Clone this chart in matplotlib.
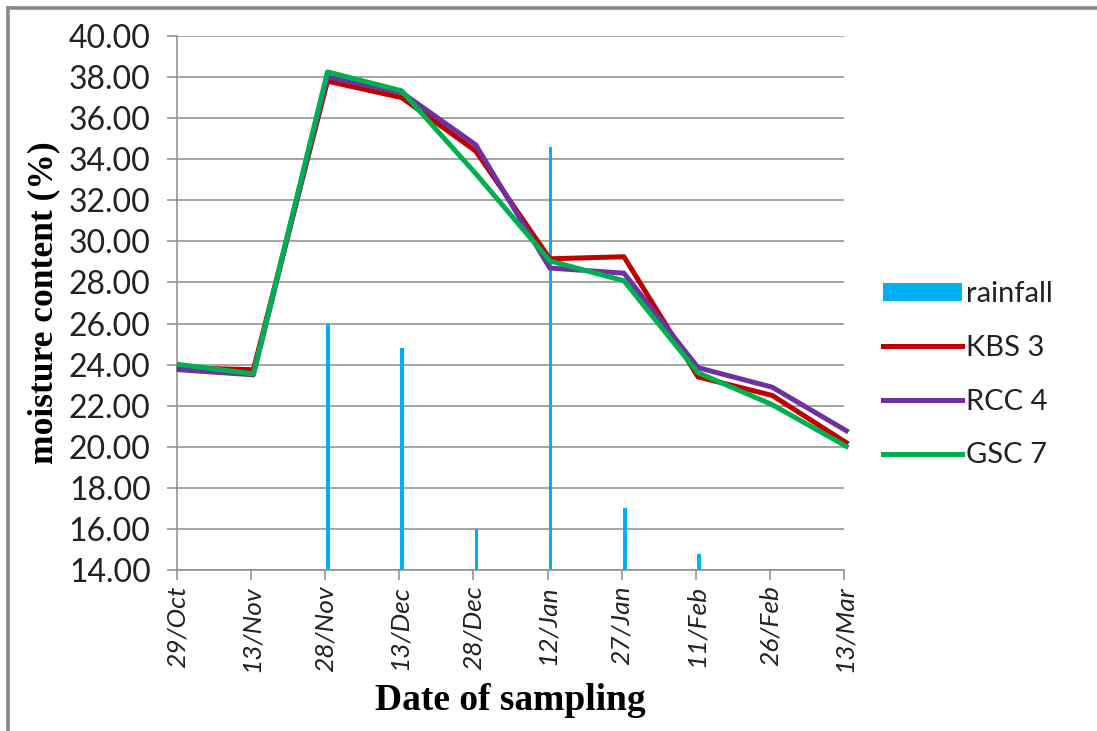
import numpy as np
import matplotlib
matplotlib.use('Agg')
import matplotlib.pyplot as plt
from matplotlib.patches import Patch
from matplotlib.lines import Line2D

# data
dates = ['29/Oct', '13/Nov', '28/Nov', '13/Dec', '28/Dec',
         '12/Jan', '27/Jan', '11/Feb', '26/Feb', '13/Mar']
kbs3 = [23.85, 23.75, 37.80, 37.00, 34.40, 29.15, 29.25, 23.40, 22.50, 20.20]
rcc4 = [23.75, 23.50, 38.00, 37.25, 34.70, 28.70, 28.45, 23.85, 22.90, 20.78]
gsc7 = [24.00, 23.55, 38.25, 37.33, 33.30, 29.05, 28.08, 23.60, 22.05, 20.02]
rainfall = [np.nan, np.nan, 26.0, 24.8, 16.0, 34.6, 17.0, 14.8, np.nan, np.nan]

YMIN, YMAX = 14.0, 40.0

x = np.arange(len(dates))

fig = plt.figure(figsize=(10.97, 7.31), dpi=100)
ax = fig.add_axes([0.1614, 0.2203, 0.6080, 0.7305])

# rainfall drawn as thin bars rising from the axis floor
rain = np.array(rainfall)
ok = ~np.isnan(rain)
ax.bar(x[ok] + 0.04, rain[ok] - YMIN, bottom=YMIN, width=0.05,
       color='#00B0F0', zorder=2)

ax.plot(x + 0.03, kbs3, color='#C00000', lw=3.6, zorder=3, clip_on=False)
ax.plot(x + 0.03, rcc4, color='#7030A0', lw=3.6, zorder=4, clip_on=False)
ax.plot(x + 0.03, gsc7, color='#00B050', lw=3.6, zorder=5, clip_on=False)

ax.set_xlim(0, 9)
ax.set_ylim(YMIN, YMAX)
ax.set_yticks(np.arange(14, 40.1, 2))
ax.set_yticklabels(['%.2f' % v for v in np.arange(14, 40.1, 2)],
                   fontsize=23, family='Lato', color='#222222')
ax.set_xticks(x)
ax.set_xticklabels(dates, rotation=90, fontsize=19, family='Lato',
                   style='italic', color='#222222')

ax.grid(axis='y', color='#8C8C8C', lw=1.1, zorder=0)
for s in ['top', 'right']:
    ax.spines[s].set_visible(False)
ax.spines['left'].set_color('#8C8C8C')
ax.spines['bottom'].set_color('#8C8C8C')
ax.spines['left'].set_linewidth(1.1)
ax.spines['bottom'].set_linewidth(1.1)
ax.tick_params(axis='both', color='#8C8C8C', length=7, width=1.1)
ax.tick_params(axis='y', pad=12)
ax.tick_params(axis='x', pad=4)

ax.set_ylabel('moisture content (%)', family='Liberation Serif',
              fontweight='bold', fontsize=25.5, labelpad=6)
ax.set_xlabel('Date of sampling', family='Liberation Serif',
              fontweight='bold', fontsize=27, labelpad=8)

handles = [Patch(facecolor='#00B0F0', edgecolor='none'),
           Line2D([], [], color='#C00000', lw=3.6),
           Line2D([], [], color='#7030A0', lw=3.6),
           Line2D([], [], color='#00B050', lw=3.6)]
leg = fig.legend(handles, ['rainfall', 'KBS 3', 'RCC 4', 'GSC 7'],
                 loc='upper left', bbox_to_anchor=(0.781, 0.651),
                 frameon=False, prop={'family': 'Lato', 'size': 21},
                 handlelength=2.7, handleheight=0.6, handletextpad=0.15,
                 labelspacing=0.95)
for t in leg.get_texts():
    t.set_color('#222222')

# chart-area border: only left and top edges show
fig.lines.append(Line2D([0.0075, 0.0075], [0.0, 0.989], transform=fig.transFigure,
                        color='#888888', lw=2.6))
fig.lines.append(Line2D([0.0075, 1.0], [0.989, 0.989], transform=fig.transFigure,
                        color='#888888', lw=2.6))

fig.savefig('out.png', dpi=100)
